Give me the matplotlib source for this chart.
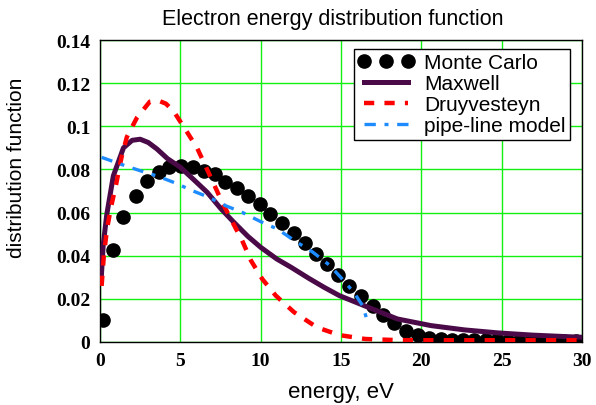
import matplotlib
matplotlib.use("Agg")
import matplotlib.pyplot as plt

# Monte Carlo
mc_x = [0.17, 0.83, 1.46, 2.25, 2.92, 3.65, 4.31, 5.04, 5.77, 6.46, 7.15, 7.81, 8.54, 9.21,
        9.96, 10.6, 11.35, 12.08, 12.75, 13.46, 14.1, 14.8, 15.5, 16.25, 16.98, 17.6, 18.3,
        19.06, 19.8, 20.5, 21.2, 21.9, 22.6, 23.3, 24.0, 24.7, 25.4, 26.1, 26.8, 27.5, 28.2,
        28.9, 29.6]
mc_y = [0.0102, 0.0427, 0.0578, 0.0678, 0.0748, 0.079, 0.081, 0.0817, 0.0813, 0.0794, 0.0779,
        0.0743, 0.0715, 0.0678, 0.064, 0.0593, 0.055, 0.0505, 0.0458, 0.0408, 0.0362, 0.0312,
        0.026, 0.0215, 0.0165, 0.0127, 0.0087, 0.0052, 0.0034, 0.0019, 0.0013, 0.0011, 0.0009,
        0.0008, 0.0007, 0.0007, 0.0006, 0.0006, 0.0005, 0.0005, 0.0005, 0.0004, 0.0004]

# Maxwell
mx_x = [0.08, 0.2, 0.42, 0.83, 1.46, 2.0, 2.5, 3.0, 3.54, 4.2, 5.0, 5.8, 6.67, 7.5, 8.33,
        9.2, 10.0, 11.0, 11.9, 13.0, 13.96, 14.9, 16.46, 18.5, 20.6, 22.7, 24.8, 26.9, 29.0, 30.0]
mx_y = [0.030, 0.045, 0.059, 0.077, 0.090, 0.0935, 0.094, 0.0925, 0.0895, 0.085, 0.081,
        0.0755, 0.0694, 0.062, 0.0555, 0.049, 0.0439, 0.0385, 0.0346, 0.0295, 0.0253, 0.0215,
        0.0168, 0.0107, 0.0076, 0.0056, 0.0042, 0.0032, 0.0025, 0.0022]

# Druyvesteyn
dr_x = [0.1, 0.25, 0.45, 0.7, 1.0, 1.35, 1.67, 2.3, 3.1, 3.6, 4.1, 4.58, 5.3, 6.04, 6.56,
        7.08, 7.6, 8.23, 8.85, 9.4, 10.1, 10.94, 12.08, 13.5, 14.9, 16.5, 18.4, 20.0, 30.0]
dr_y = [0.026, 0.041, 0.053, 0.063, 0.073, 0.086, 0.095, 0.104, 0.1114, 0.112, 0.1105,
        0.107, 0.0987, 0.090, 0.0817, 0.0733, 0.0648, 0.0558, 0.047, 0.0377, 0.0292, 0.0215,
        0.0138, 0.0068, 0.0032, 0.0014, 0.0009, 0.0008, 0.0008]

# pipe-line model
pl_x = [0.1, 1.46, 2.5, 3.65, 4.69, 5.73, 6.77, 7.81, 8.85, 10.0, 11.04, 12.1, 13.2, 14.27,
        14.98, 15.8, 16.35, 16.6]
pl_y = [0.0856, 0.082, 0.0794, 0.0767, 0.0737, 0.0702, 0.0671, 0.0632, 0.0601, 0.0558,
        0.0524, 0.047, 0.0419, 0.0357, 0.030, 0.023, 0.0168, 0.0107]

x_ticks = [0, 5, 10, 15, 20, 25, 30]
y_ticks = [0, 0.02, 0.04, 0.06, 0.08, 0.1, 0.12, 0.14]
y_tick_labels = ["0", "0.02", "0.04", "0.06", "0.08", "0.1", "0.12", "0.14"]

fig = plt.figure(figsize=(5.96, 4.06), dpi=100)
ax = fig.add_axes([100 / 596, 1 - 343 / 406, 482 / 596, 302 / 406])

ax.plot(mc_x, mc_y, linestyle="none", marker="o", ms=9.5, color="black",
        label="Monte Carlo", zorder=3)
ax.plot(mx_x, mx_y, color="#4a0a48", lw=3.6, label="Maxwell", zorder=4)
ax.plot(dr_x, dr_y, color="#ff0000", lw=3.2, linestyle=(0, (2.3, 2.3)),
        label="Druyvesteyn", zorder=5)
ax.plot(pl_x, pl_y, color="#1e8cff", lw=2.4, linestyle=(0, (3.4, 2.6, 1.2, 2.6)),
        label="pipe-line model", zorder=6)

ax.set_xlim(0, 30)
ax.set_ylim(0, 0.14)
ax.set_xticks(x_ticks)
ax.set_yticks(y_ticks)
ax.set_yticklabels(y_tick_labels)
ax.grid(True, color="#11f011", lw=1.0, zorder=0)
ax.set_axisbelow(True)
ax.tick_params(length=0, pad=7)
for lab in ax.get_xticklabels() + ax.get_yticklabels():
    lab.set_fontfamily("Liberation Serif")
    lab.set_fontweight("bold")
    lab.set_fontsize(14)
for sp in ax.spines.values():
    sp.set_color("black")
    sp.set_linewidth(1.0)

fig.text(333 / 596, 1 - 20 / 406, "Electron energy distribution function",
         ha="center", va="center", fontsize=15.5, family="Liberation Sans")
fig.text(341 / 596, 1 - 393 / 406, "energy, eV", ha="center", va="center",
         fontsize=16, family="Liberation Sans")
fig.text(17 / 596, 1 - 168 / 406, "distribution function", ha="center", va="center",
         rotation=90, fontsize=15, family="Liberation Sans")

leg = ax.legend(loc="upper right", bbox_to_anchor=(470 / 482, (343 - 50) / 302),
                borderaxespad=0, numpoints=3, fancybox=False, framealpha=1,
                edgecolor="black", prop={"family": "Liberation Sans", "size": 15},
                handlelength=2.7, handletextpad=0.5, labelspacing=0.1, borderpad=0.2)
leg.get_frame().set_linewidth(1.0)

fig.savefig("out.png", dpi=100)
